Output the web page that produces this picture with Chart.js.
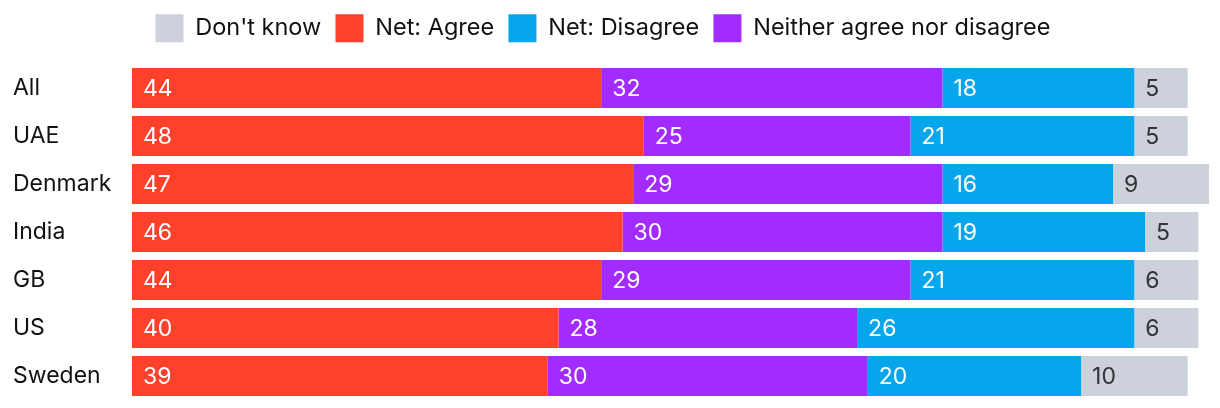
<!DOCTYPE html>
<html>
<head>
<meta charset="utf-8">
<script src="https://cdn.jsdelivr.net/npm/chart.js@4"></script>
<style>
  html, body { margin: 0; padding: 0; background: #fff; }
  #wrap { width: 1220px; height: 408px; }
</style>
</head>
<body>
<div id="wrap"><canvas id="grafico"></canvas></div>
<script>
const paises = ['All', 'UAE', 'Denmark', 'India', 'GB', 'US', 'Sweden'];
const netAgree = [44, 48, 47, 46, 44, 40, 39];
const neither = [32, 25, 29, 30, 29, 28, 30];
const netDisagree = [18, 21, 16, 19, 21, 26, 20];
const dontKnow = [5, 5, 9, 5, 6, 6, 10];
const ordenLeyenda = ['Don\'t know', 'Net: Agree', 'Net: Disagree', 'Neither agree nor disagree'];

const fuente = 'Inter';

// etiquetas dentro de cada barra
const etiquetas = {
  id: 'etiquetas',
  afterDatasetsDraw(chart) {
    const ctx = chart.ctx;
    ctx.save();
    ctx.font = '23px ' + fuente;
    ctx.textBaseline = 'middle';
    ctx.textAlign = 'left';
    chart.data.datasets.forEach((ds, i) => {
      const meta = chart.getDatasetMeta(i);
      meta.data.forEach((bar, j) => {
        ctx.fillStyle = ds.labelColor;
        ctx.fillText(ds.data[j], bar.base + 11, bar.y + 1);
      });
    });
    ctx.restore();
  }
};

new Chart(document.getElementById('grafico'), {
  type: 'bar',
  data: {
    labels: paises,
    datasets: [
      { label: 'Net: Agree', data: netAgree, backgroundColor: '#ff412c', labelColor: '#ffffff' },
      { label: 'Neither agree nor disagree', data: neither, backgroundColor: '#a22cff', labelColor: '#ffffff' },
      { label: 'Net: Disagree', data: netDisagree, backgroundColor: '#06a6ec', labelColor: '#ffffff' },
      { label: 'Don\'t know', data: dontKnow, backgroundColor: '#cdd1dc', labelColor: '#333333' }
    ]
  },
  options: {
    indexAxis: 'y',
    responsive: true,
    maintainAspectRatio: false,
    animation: false,
    datasets: {
      bar: { borderWidth: 0, categoryPercentage: 1, barPercentage: 40 / 48, clip: false }
    },
    layout: { padding: { top: 0, left: 13, right: 27, bottom: 8 } },
    scales: {
      x: {
        stacked: true,
        position: 'top',
        min: 0,
        max: 99.5,
        grid: { display: false },
        border: { display: false },
        ticks: { display: false },
        afterFit: s => { s.height = 11.75; }
      },
      y: {
        stacked: true,
        grid: { display: false },
        border: { display: false },
        ticks: {
          crossAlign: 'far',
          color: '#111111',
          font: { family: fuente, size: 23 }
        },
        afterFit: s => {
          s.width = 119;
          s.paddingTop = 0;
          s.paddingBottom = 0;
        }
      }
    },
    plugins: {
      legend: {
        position: 'top',
        labels: {
          boxWidth: 28,
          boxHeight: 28,
          padding: 14.25,
          color: '#111111',
          font: { family: fuente, size: 23.5 },
          sort: (a, b) => ordenLeyenda.indexOf(a.text) - ordenLeyenda.indexOf(b.text)
        }
      },
      tooltip: { enabled: false }
    }
  },
  plugins: [etiquetas]
});
</script>
</body>
</html>
